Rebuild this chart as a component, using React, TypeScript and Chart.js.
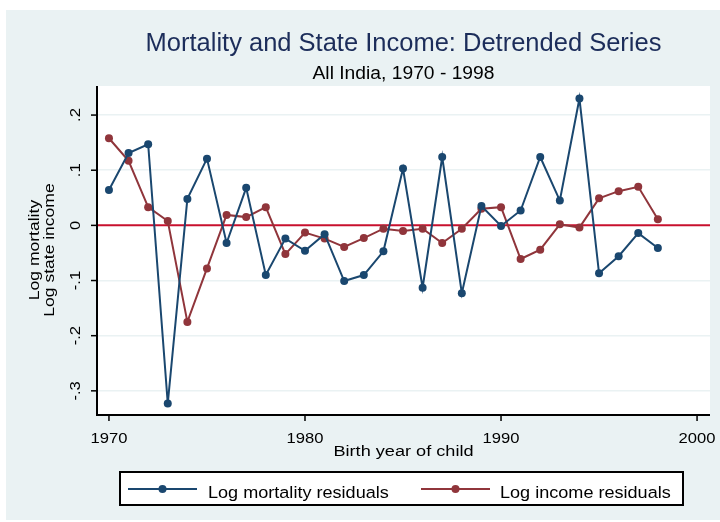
import React, { useEffect, useRef } from "react";
import { Chart, registerables } from "chart.js";

Chart.register(...registerables);

const years = [1970, 1971, 1972, 1973, 1974, 1975, 1976, 1977, 1978, 1979, 1980, 1981, 1982, 1983, 1984, 1985, 1986, 1987, 1988, 1989, 1990, 1991, 1992, 1993, 1994, 1995, 1996, 1997, 1998];
const mortalityResiduals = [0.064, 0.131, 0.147, -0.323, 0.048, 0.121, -0.032, 0.068, -0.090, -0.024, -0.046, -0.016, -0.101, -0.090, -0.047, 0.103, -0.113, 0.124, -0.123, 0.035, -0.001, 0.027, 0.124, 0.045, 0.230, -0.087, -0.056, -0.014, -0.041];
const incomeResiduals = [0.158, 0.117, 0.033, 0.008, -0.175, -0.078, 0.019, 0.015, 0.033, -0.052, -0.013, -0.024, -0.039, -0.023, -0.006, -0.010, -0.006, -0.032, -0.006, 0.030, 0.033, -0.061, -0.044, 0.002, -0.004, 0.049, 0.062, 0.070, 0.011];

const xTickValues = [1970, 1980, 1990, 2000];
const xTickLabels = ["1970", "1980", "1990", "2000"];
const yTickValues = [-0.3, -0.2, -0.1, 0, 0.1, 0.2];
const yTickLabels = ["-.3", "-.2", "-.1", "0", ".1", ".2"];

const titleText = "Mortality and State Income: Detrended Series";
const subtitleText = "All India, 1970 - 1998";
const xTitle = "Birth year of child";
const yTitleLines = ["Log mortality", "Log state income"];
const seriesNames = ["Log mortality residuals", "Log income residuals"];

const BLUE = "#1a476f";
const RED = "#90353b";
const ZERO = "#c8102e";
const BG = "#eaf2f3";
const FONT = '"Liberation Sans", Arial, Helvetica, sans-serif';

function txt(ctx: any, s: string, x: number, y: number, size: number, stretch: number, align: string, color: string, rot = 0) {
  ctx.save();
  ctx.translate(x, y);
  if (rot) ctx.rotate(rot);
  ctx.scale(stretch, 1);
  ctx.font = `${size}px ${FONT}`;
  ctx.fillStyle = color;
  ctx.textAlign = align;
  ctx.textBaseline = "alphabetic";
  ctx.fillText(s, 0, 0);
  ctx.restore();
}

const decor = {
  id: "decor",
  beforeDraw(chart: any) {
    const { ctx, chartArea } = chart;
    ctx.save();
    ctx.fillStyle = "#ffffff";
    ctx.fillRect(0, 0, chart.width, chart.height);
    ctx.fillStyle = BG;
    ctx.fillRect(6, 10, chart.width - 6, 510);
    ctx.fillStyle = "#ffffff";
    ctx.fillRect(chartArea.left, chartArea.top, chartArea.right - chartArea.left, chartArea.bottom - chartArea.top);
    ctx.restore();
  },
  beforeDatasetsDraw(chart: any) {
    const { ctx, chartArea, scales } = chart;
    const y0 = scales.y.getPixelForValue(0);
    ctx.save();
    ctx.strokeStyle = ZERO;
    ctx.lineWidth = 2;
    ctx.beginPath();
    ctx.moveTo(chartArea.left, y0);
    ctx.lineTo(chartArea.right, y0);
    ctx.stroke();
    ctx.restore();
  },
  afterDraw(chart: any) {
    const { ctx, chartArea, scales } = chart;
    const cx = (chartArea.left + chartArea.right) / 2;
    ctx.save();
    txt(ctx, titleText, cx, 51, 25.5, 1, "center", "#1c2d5a");
    txt(ctx, subtitleText, cx, 79, 17.5, 1.1, "center", "#000");

    ctx.strokeStyle = "#000000";
    ctx.lineWidth = 2;
    ctx.beginPath();
    ctx.moveTo(chartArea.left, chartArea.top);
    ctx.lineTo(chartArea.left, chartArea.bottom + 1);
    ctx.lineTo(chartArea.right, chartArea.bottom + 1);
    ctx.stroke();

    ctx.lineWidth = 1.5;
    xTickValues.forEach((v, i) => {
      const x = scales.x.getPixelForValue(v);
      ctx.beginPath();
      ctx.moveTo(x, chartArea.bottom + 1);
      ctx.lineTo(x, chartArea.bottom + 7);
      ctx.stroke();
      txt(ctx, xTickLabels[i], x, 443, 15.5, 1.07, "center", "#000");
    });
    txt(ctx, xTitle, cx, 456, 15.5, 1.17, "center", "#000");

    yTickValues.forEach((v, i) => {
      const y = scales.y.getPixelForValue(v);
      ctx.beginPath();
      ctx.moveTo(chartArea.left, y);
      ctx.lineTo(chartArea.left - 6, y);
      ctx.stroke();
      txt(ctx, yTickLabels[i], chartArea.left - 17, y, 15.5, 1.07, "center", "#000", -Math.PI / 2);
    });
    const cy = (chartArea.top + chartArea.bottom) / 2;
    txt(ctx, yTitleLines[0], 39, cy, 15.5, 1.13, "center", "#000", -Math.PI / 2);
    txt(ctx, yTitleLines[1], 54, cy, 15.5, 1.13, "center", "#000", -Math.PI / 2);

    const bx = 120, by = 472, bw = 563, bh = 33;
    ctx.fillStyle = "#ffffff";
    ctx.fillRect(bx, by, bw, bh);
    ctx.strokeStyle = "#000";
    ctx.lineWidth = 2;
    ctx.strokeRect(bx, by, bw, bh);
    const ly = 489;
    const items = [
      { x0: 128, x1: 197, color: BLUE, tx: 208 },
      { x0: 421, x1: 490, color: RED, tx: 500 },
    ];
    items.forEach((it, i) => {
      ctx.strokeStyle = it.color;
      ctx.lineWidth = 2;
      ctx.beginPath();
      ctx.moveTo(it.x0, ly);
      ctx.lineTo(it.x1, ly);
      ctx.stroke();
      ctx.fillStyle = it.color;
      ctx.beginPath();
      ctx.arc((it.x0 + it.x1) / 2, ly, 4, 0, Math.PI * 2);
      ctx.fill();
      txt(ctx, seriesNames[i], it.tx, 498, 16.3, 1.11, "left", "#000");
    });
    ctx.restore();
  },
};

export default function App() {
  const ref = useRef<HTMLCanvasElement | null>(null);
  useEffect(() => {
    document.body.style.margin = "0";
    const canvas = ref.current;
    if (!canvas) return;
    const chart = new Chart(canvas, {
      type: "line",
      data: {
        datasets: [
          {
            label: seriesNames[0],
            data: years.map((x, i) => ({ x, y: mortalityResiduals[i] })),
            borderColor: BLUE,
            backgroundColor: BLUE,
            borderWidth: 2,
            pointRadius: 4,
            pointBorderWidth: 0,
            tension: 0,
          },
          {
            label: seriesNames[1],
            data: years.map((x, i) => ({ x, y: incomeResiduals[i] })),
            borderColor: RED,
            backgroundColor: RED,
            borderWidth: 2,
            pointRadius: 4,
            pointBorderWidth: 0,
            tension: 0,
          },
        ],
      },
      options: {
        animation: false,
        responsive: false,
        layout: { padding: { left: 97, top: 86, right: 10, bottom: 108 } },
        plugins: { legend: { display: false }, title: { display: false }, tooltip: { enabled: false } },
        scales: {
          x: {
            type: "linear",
            min: 1969.39,
            max: 2000.66,
            afterBuildTicks: (s: any) => { s.ticks = xTickValues.map((v) => ({ value: v })); },
            ticks: { display: false },
            grid: { display: false, drawTicks: false },
            border: { display: false },
          },
          y: {
            type: "linear",
            min: -0.342,
            max: 0.2527,
            afterBuildTicks: (s: any) => { s.ticks = yTickValues.map((v) => ({ value: v })); },
            ticks: { display: false },
            grid: { color: (c: any) => (c.tick && c.tick.value === 0 ? "rgba(0,0,0,0)" : BG), lineWidth: 1.5, drawTicks: false },
            border: { display: false },
          },
        },
      },
      plugins: [decor],
    });
    return () => chart.destroy();
  }, []);
  return (
    <div style={{ position: "absolute", left: 0, top: 0, width: 720, height: 522 }}>
      <canvas ref={ref} width={720} height={522} />
    </div>
  );
}
